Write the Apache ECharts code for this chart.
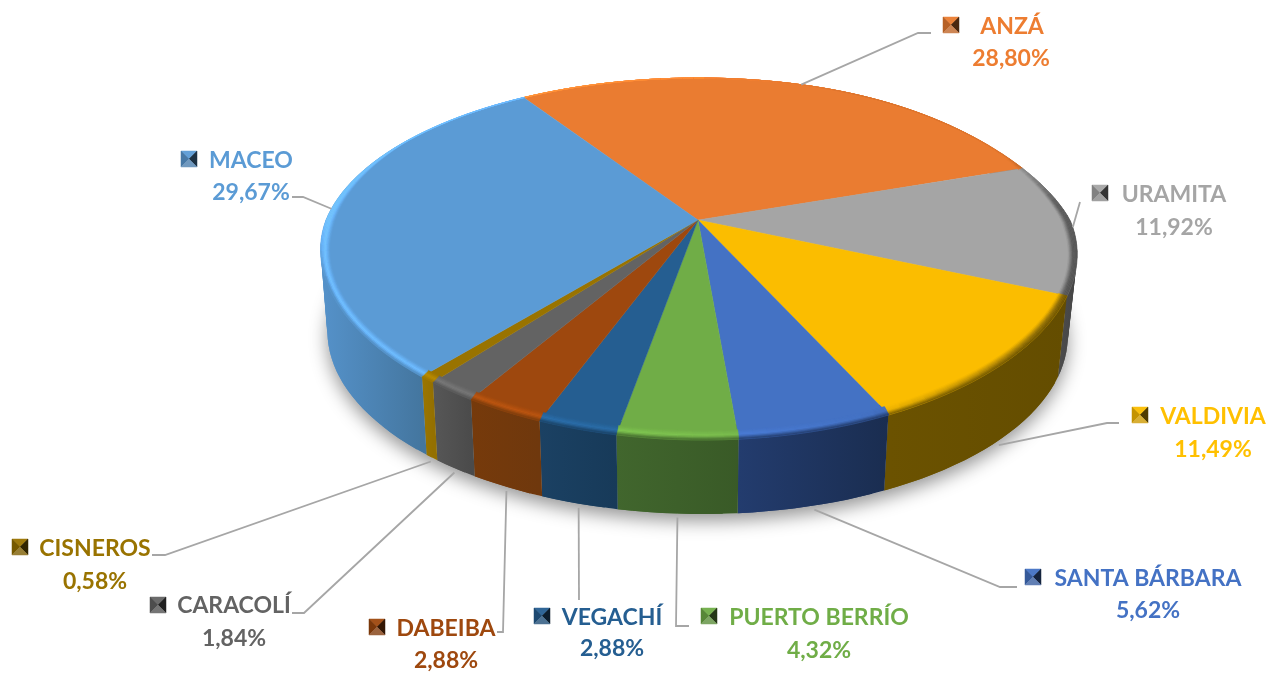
<!DOCTYPE html>
<html>
<head>
<meta charset="utf-8">
<style>html,body{margin:0;padding:0;background:#fff}#c{width:1269px;height:673px}</style>
<script src="https://cdn.jsdelivr.net/npm/echarts@6/dist/echarts.min.js"></script>
</head>
<body>
<div id="c"></div>
<script>
// ---- data ----
const categories = ['ANZÁ','URAMITA','VALDIVIA','SANTA BÁRBARA','PUERTO BERRÍO','VEGACHÍ','DABEIBA','CARACOLÍ','CISNEROS','MACEO'];
const shares = [28.80,11.92,11.49,5.62,4.32,2.88,2.88,1.84,0.58,29.67];

// ---- styles ----
const topColors  = ['#EA7C31','#A5A5A5','#FBBD00','#4472C4','#70AD47','#255E91','#9E480E','#636363','#997300','#5B9BD5'];
const sideLeft   = ['#8a4a1c','#5c5c5c','#6b5200','#233c6e','#41662d','#1b4163','#763a0b','#575757','#9c7600','#5592ca'];
const sideRight  = ['#8a4a1c','#444444','#644d00','#1a2d50','#395a27','#173a59','#6f380d','#4b4b4b','#947000','#44769f'];
const textColors = ['#ED7D31','#A5A5A5','#FFC000','#4472C4','#70AD47','#255E91','#9E480E','#636363','#997300','#5B9BD5'];

// ---- layout ----
const nameX  = [1012,1174,1213,1148,819,612,446,234,95,251];
const nameY  = [27,195,417,579,618,618,629,606,549,161];
const pctX   = [1011,1174,1213,1148,819,612,446,234,95,251];
const pctY   = [59,228,450,611,651,649,661,639,582,193];
const iconX  = [943,1092,1132,1025,701,534,369,150,12,181];
const iconY  = [17,185,407,569,608,608,619,597,539,151];
const elbows = [
  [[918,33],[931,33]], [[1080,202]], [[1107,423],[1119,423]], [[1000,587],[1017,587]],
  [[676,626],[689,626]], [[579,600]], [[503,632],[497,632]], [[304,613],[292,613]],
  [[165,555],[152,555]], [[303,197],[292,197]]
];
const startAngle = -32.7, FONT = '700 23px Lato, sans-serif';
const apexX = 698, apexY = 220, a = 372, b = 167.8, k = 0.1816;
const midX = 700, midY = 251;

function arc(deg){
  const t = deg*Math.PI/180, u = Math.sin(t), v = -Math.cos(t), w = 1 - k*v;
  const dx = v>0 ? 5*v : (u>0 ? -27*u*u*u*(-v) : 0);
  return {x: apexX + a*u/w + dx, y: apexY + b*v/w, v: v, u: u};
}
function drop(p){ return p.v>0 ? 15*p.v*p.v : 0; }
function below(p){
  const s = p.x<midX ? 0.982 : 0.975;
  return {x: midX + (p.x-midX)*s, y: 333 + (p.y-midY)*1.04};
}
function hex(c){ return [1,3,5].map(i=>parseInt(c.substr(i,2),16)); }
function css(c){ return 'rgb('+c.map(x=>Math.round(Math.min(255,x))).join(',')+')'; }
function mix(c,d,f){ return css(c.map((x,i)=>x+(d[i]-x)*f)); }
function mixA(c,d,f){ return c.map((x,i)=>x+(d[i]-x)*f); }
function range(s,e,step){ const n=Math.max(1,Math.ceil((e-s)/step)),o=[]; for(let i=0;i<=n;i++)o.push(s+(e-s)*i/n); return o; }

// rim highlight: bright on the left, neutral in front, dark on the right
function rimAmount(x){
  const f=(x-322)/755;
  if(f<0.5) return 0.22-0.24*f;
  if(f<0.72) return 0.10-0.45*(f-0.5);
  return -1.9*(f-0.72);
}
const total = shares.reduce((s,x)=>s+x,0);
let acc = startAngle;
const spans = shares.map(s=>{const st=acc; acc+=s/total*360; return [st,acc];});

function renderSlice(params, api){
  const i = params.dataIndex, val = api.value(0);
  const st = spans[i][0], en = st + val/total*360, mid=(st+en)/2;
  const top = hex(topColors[i]), sL = hex(sideLeft[i]), sR = hex(sideRight[i]);
  const kids = [];
  const pts = range(st,en,2).map(arc);

  if(i===0){
    const ring = range(0,360,3).map(arc).map(below).map(p=>[p.x,p.y]);
    kids.push({type:'polygon',z2:0,shape:{points:ring},style:{fill:'#d8d8d8',shadowBlur:18,shadowColor:'rgba(0,0,0,0.42)',shadowOffsetY:7}});
  }
  // outer wall: overlapping bands so no seams show between them
  const s2=Math.max(st,62), e2=Math.min(en,305);
  if(e2>s2){
    const w=range(s2,e2,2).map(arc);
    const xs=w.map(p=>p.x), x0=Math.min(...xs), x1=Math.max(...xs)+0.01;
    const fill={type:'linear',global:true,x:x0,y:0,x2:x1,y2:0,colorStops:[{offset:0,color:sideLeft[i]},{offset:1,color:sideRight[i]}]};
    const n=w.length-1;
    for(let s=0;s<n;s++){
      const e=Math.min(n,s+2);
      const band=w.slice(s,e+1);
      const poly=band.map(p=>[p.x,p.y]).concat(band.slice().reverse().map(below).map(p=>[p.x,p.y]));
      kids.push({type:'polygon',z2:1,shape:{points:poly},style:{fill:fill}});
    }
  }
  // top face
  const face=[[apexX,apexY]].concat(pts.map(p=>[p.x,p.y+drop(p)]));
  kids.push({type:'polygon',z2:2,shape:{points:face},style:{fill:topColors[i],stroke:topColors[i],lineWidth:0.4}});
  // bevel along the rim
  const K=7;
  const inset=(p,f)=>{
    const t=Math.max(0,Math.min(1,(p.v+0.5)/0.55));
    return [p.x-(p.x-midX)*0.024*f*(0.25+0.75*t), p.y+drop(p)-(p.y-midY)*0.055*f*t];
  };
  for(let s=0;s<pts.length-1;s++){
    const p=pts[s],q=pts[s+1],cx=(p.x+q.x)/2;
    let amt=rimAmount(cx);
    if(amt<0) amt*=Math.max(0,Math.min(1,(p.v+0.42)/0.3));
    const glow=amt>=0?top.map(x=>x*(1+amt*1.25)):mixA(top,[20,20,20],-amt);
    const wall=mixA(sL,sR,0.5);
    const wf=p.v>0?Math.min(1,p.v/0.35):(p.u>0?0.25:0);
    for(let l=0;l<K;l++){
      const f0=1-l/K,f1=1-(l+1)/K,g=(l+0.5)/K;
      const col=g<0.55?mix(top,glow,g/0.55):mix(glow,wall,(g-0.55)/0.45*wf*0.9);
      kids.push({type:'polygon',z2:3,shape:{points:[inset(p,f0),inset(q,f0),inset(q,f1),inset(p,f1)]},
        style:{fill:col,stroke:col,lineWidth:0.5}});
    }
  }
  // leader line
  const mp=arc(mid), front=(mid>110&&mid<250);
  let a0=front?below(mp):mp;
  if(front){ a0={x:a0.x+(a0.x-midX)*0.004,y:a0.y+4}; }
  const line=[[a0.x,a0.y]].concat(elbows[i]);
  kids.push({type:'polyline',z2:4,shape:{points:line},style:{fill:'none',stroke:'#A6A6A6',lineWidth:1.8}});
  // legend key
  const ix=iconX[i],iy=iconY[i],S=16,c=[ix+S/2,iy+S/2];
  const faces=[
    [[[ix,iy],[ix+S,iy],c],mix(top,[255,255,255],0.05)],
    [[[ix,iy],[ix,iy+S],c],mix(top,[0,0,0],0.22)],
    [[[ix+S,iy],[ix+S,iy+S],c],mix(top,[0,0,0],0.68)],
    [[[ix,iy+S],[ix+S,iy+S],c],mix(top,[150,150,150],0.35)]
  ];
  faces.forEach(f=>kids.push({type:'polygon',z2:5,shape:{points:f[0]},style:{fill:f[1],stroke:f[1],lineWidth:0.5}}));
  // texts
  kids.push({type:'text',z2:6,style:{text:categories[i],x:nameX[i],y:nameY[i],align:'center',verticalAlign:'middle',font:FONT,fill:textColors[i]}});
  kids.push({type:'text',z2:6,style:{text:val.toFixed(2).replace('.',',')+'%',x:pctX[i],y:pctY[i],align:'center',verticalAlign:'middle',font:FONT,fill:textColors[i]}});
  return {type:'group',children:kids};
}

const chart = echarts.init(document.getElementById('c'),null,{renderer:'canvas'});
chart.setOption({
  animation:false,
  backgroundColor:'#fff',
  series:[{type:'custom',coordinateSystem:'none',renderItem:renderSlice,silent:true,
    data:shares.map((v,i)=>({name:categories[i],value:[v]}))}]
});
</script>
</body>
</html>
